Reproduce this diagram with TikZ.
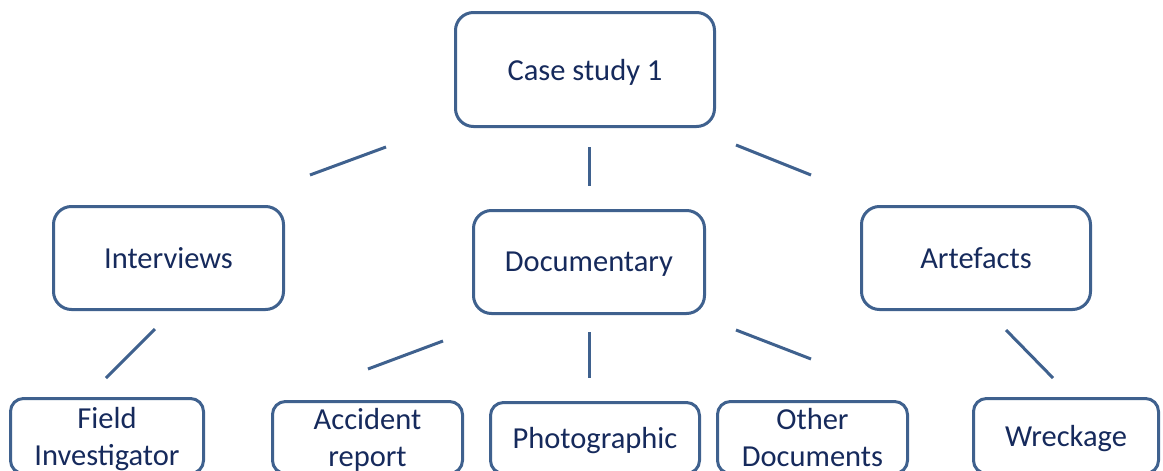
\documentclass[tikz,border=0pt]{standalone}
\usepackage{fontspec}
\setmainfont{Carlito}
\definecolor{bordc}{RGB}{63,97,142}
\definecolor{txtc}{RGB}{22,42,92}
\tikzset{
  box/.style={draw=bordc, line width=3pt, rounded corners=18pt, fill=white,
    text=txtc, font=\fontsize{30.5}{37}\selectfont, align=center, inner sep=0pt,
    text depth=0pt},
  smallbox/.style={box, rounded corners=13pt},
  conn/.style={draw=bordc, line width=3pt}
}
\begin{document}
\begin{tikzpicture}[x=1pt,y=-1pt]
\useasboundingbox (0,0) rectangle (1163,471);
% level 0
\node[box, minimum width=259pt, minimum height=114pt] (case) at (585,69.5) {Case study 1};
% level 1
\node[box, minimum width=230pt, minimum height=103pt] (interviews) at (168.5,258) {Interviews};
\node[box, minimum width=231pt, minimum height=103pt] (documentary) at (589,262) {Documentary};
\node[box, minimum width=229pt, minimum height=103pt] (artefacts) at (976,258) {Artefacts};
% level 2
\node[smallbox, minimum width=193pt, minimum height=75pt] (field) at (107,436) {Field\\Investigator};
\node[smallbox, minimum width=190pt, minimum height=72pt] (accident) at (367.5,437.5) {Accident\\report};
\node[smallbox, minimum width=209pt, minimum height=71pt] (photo) at (595,438) {Photographic};
\node[smallbox, minimum width=190pt, minimum height=72pt] (other) at (812.5,437.5) {Other\\Documents};
\node[smallbox, minimum width=185pt, minimum height=75pt] (wreck) at (1066,436) {Wreckage};
% connector ends
\coordinate (c1a) at (386,147); \coordinate (c1b) at (310,175);
\coordinate (c2a) at (589,147); \coordinate (c2b) at (589,186);
\coordinate (c3a) at (736,145); \coordinate (c3b) at (811,175);
\coordinate (c4a) at (155,329); \coordinate (c4b) at (106,378);
\coordinate (c5a) at (443,341); \coordinate (c5b) at (368,369);
\coordinate (c6a) at (589,332); \coordinate (c6b) at (589,378);
\coordinate (c7a) at (736,330); \coordinate (c7b) at (811,359);
\coordinate (c8a) at (1006,330); \coordinate (c8b) at (1053,378);
\draw[conn] (c1a) -- (c1b);
\draw[conn] (c2a) -- (c2b);
\draw[conn] (c3a) -- (c3b);
\draw[conn] (c4a) -- (c4b);
\draw[conn] (c5a) -- (c5b);
\draw[conn] (c6a) -- (c6b);
\draw[conn] (c7a) -- (c7b);
\draw[conn] (c8a) -- (c8b);
\end{tikzpicture}
\end{document}
